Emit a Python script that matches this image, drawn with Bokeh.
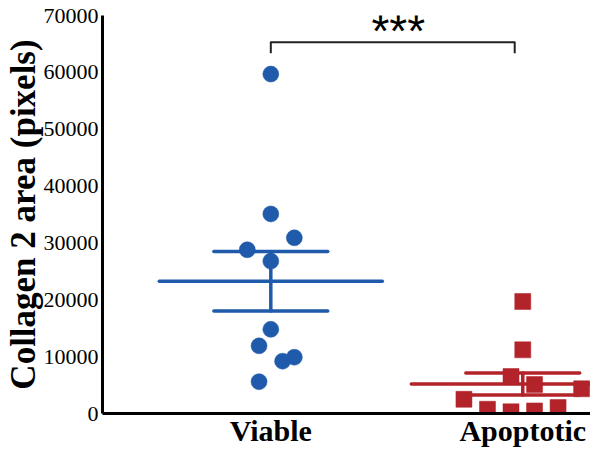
import numpy as np
from bokeh.plotting import figure
from bokeh.models import FixedTicker, Range1d, BasicTickFormatter
from bokeh.core.properties import value
from bokeh.embed import file_html
from bokeh.resources import INLINE

# ---------------- data ----------------
categories = ["Viable", "Apoptotic"]
viable_values = [59700, 35100, 30900, 28800, 26800, 14800, 11900, 9200, 9900, 5600]
viable_slots = [0, 0, 2, -2, 0, 0, -1, 1, 2, -1]          # beeswarm slot per point
apoptotic_values = [19700, 11200, 6500, 5100, 4350, 2500, 750, 300, 450, 1050]
apoptotic_slots = [0, 0, -1, 1, 5, -5, -3, -1, 1, 3]
y_ticks = [0, 10000, 20000, 30000, 40000, 50000, 60000, 70000]
y_label = "Collagen 2 area (pixels)"
significance = "***"
bracket_x = [1.0, 1.968]
bracket_y = [63360, 65280]

# ---------------- style ----------------
BLUE = "#1F5AAB"
RED = "#B3232A"
SERIF = "Liberation Serif"
SLOT = 0.0467
MEAN_HALF = 0.4425
CAP_HALF = 0.226

p = figure(width=590, height=449, output_backend="svg", toolbar_location=None,
           x_range=Range1d(0.332, 2.2688), y_range=Range1d(0, 70000),
           min_border_left=100, min_border_right=0, min_border_top=15,
           min_border_bottom=33)
p.outline_line_color = None
p.grid.visible = False
p.background_fill_color = "white"

for axis in (p.xaxis, p.yaxis):
    axis.axis_line_width = 3
    axis.axis_line_color = "black"
    axis.major_tick_line_color = None
    axis.minor_tick_line_color = None
    axis.major_tick_out = 0
    axis.major_tick_in = 0
    axis.minor_tick_out = 0
    axis.minor_tick_in = 0

# x axis: category names as tick labels
positions = list(range(1, len(categories) + 1))
p.xaxis.ticker = FixedTicker(ticks=positions)
p.xaxis.major_label_overrides = {pos: name for pos, name in zip(positions, categories)}
p.xaxis.major_label_text_font = SERIF
p.xaxis.major_label_text_font_style = "bold"
p.xaxis.major_label_text_font_size = "30px"
p.xaxis.major_label_text_color = "black"
p.xaxis.major_label_standoff = 0

# y axis
p.yaxis.ticker = FixedTicker(ticks=y_ticks)
p.yaxis.formatter = BasicTickFormatter(use_scientific=False)
p.yaxis.major_label_text_font = SERIF
p.yaxis.major_label_text_font_size = "22px"
p.yaxis.major_label_text_color = "black"
p.yaxis.major_label_standoff = 4
p.yaxis.axis_label = y_label
p.yaxis.axis_label_text_font = SERIF
p.yaxis.axis_label_text_font_style = "bold"
p.yaxis.axis_label_text_font_size = "35px"
p.yaxis.axis_label_text_color = "black"
p.yaxis.axis_label_standoff = -2

groups = [
    (1, viable_values, viable_slots, BLUE, "circle"),
    (2, apoptotic_values, apoptotic_slots, RED, "square"),
]

for pos, vals, slots, color, marker in groups:
    arr = np.array(vals, dtype=float)
    mean = arr.mean()
    sem = arr.std(ddof=1) / np.sqrt(len(arr))
    p.segment(x0=[pos - MEAN_HALF, pos - CAP_HALF, pos - CAP_HALF, pos],
              y0=[mean, mean + sem, mean - sem, mean - sem],
              x1=[pos + MEAN_HALF, pos + CAP_HALF, pos + CAP_HALF, pos],
              y1=[mean, mean + sem, mean - sem, mean + sem],
              line_color=color, line_width=3.5, line_cap="round")

for pos, vals, slots, color, marker in groups:
    xs = [pos + s * SLOT for s in slots]
    p.scatter(x=xs, y=vals, marker=marker, size=16, fill_color=color,
              line_color=color, line_width=0.5)

# significance bracket
p.line(x=[bracket_x[0], bracket_x[0], bracket_x[1], bracket_x[1]],
       y=[bracket_y[0], bracket_y[1], bracket_y[1], bracket_y[0]],
       line_color="#222222", line_width=2, line_join="round")
p.text(x=[1.506], y=[67200], text=[significance],
       text_font=value("Liberation Sans"), text_font_size="46px",
       text_align="center", text_baseline="alphabetic", text_color="black")

open("out.html", "w").write(file_html(p, INLINE))
